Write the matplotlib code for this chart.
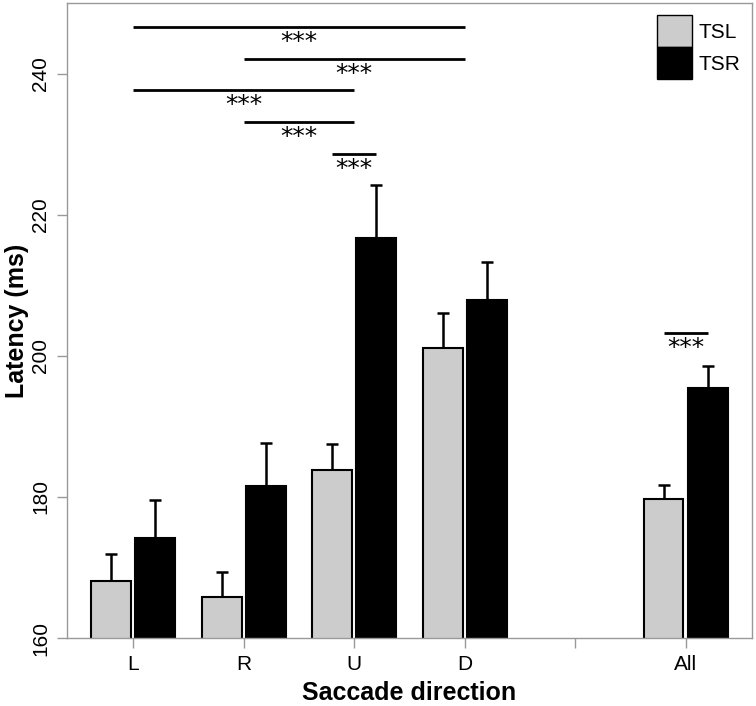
import numpy as np
import matplotlib.pyplot as plt
from matplotlib.patches import Patch

# values (ms)
directions = ['L', 'R', 'U', 'D', '', 'All']
tsl      = [168.1, 165.8, 183.8, 201.1, np.nan, 179.7]
tsl_err  = [3.8, 3.6, 3.7, 4.9, np.nan, 2.0]
tsr      = [174.2, 181.5, 216.7, 207.9, np.nan, 195.4]
tsr_err  = [5.4, 6.2, 7.5, 5.4, np.nan, 3.2]

# significance comparisons: (group, series) -> (group, series), series None = group centre
sig_from  = [('L', None), ('R', None), ('L', None), ('R', None), ('U', 'TSL'), ('All', 'TSL')]
sig_to    = [('D', None), ('D', None), ('U', None), ('U', None), ('U', 'TSR'), ('All', 'TSR')]
sig_level = [246.6, 242.1, 237.7, 233.1, 228.6, 203.2]
sig_text  = ['***'] * 6

plt.rcParams['font.family'] = ['Liberation Sans', 'DejaVu Sans']

grey = '#cccccc'
axis_grey = '#999999'
width = 0.36
offset = 0.2

fig = plt.figure(figsize=(7.56, 7.06), dpi=100)
ax = fig.add_axes([0.0886, 0.0963, 0.9061, 0.8995])

x = np.arange(len(directions))
ax.bar(x - offset, tsl, width, color=grey, edgecolor='black', linewidth=1.5, zorder=2)
ax.bar(x + offset, tsr, width, color='black', edgecolor='black', linewidth=1.5, zorder=2)
ax.errorbar(x - offset, tsl, yerr=[np.zeros(len(x)), tsl_err], fmt='none',
            ecolor='black', elinewidth=1.8, capsize=4, capthick=1.8, zorder=1)
ax.errorbar(x + offset, tsr, yerr=[np.zeros(len(x)), tsr_err], fmt='none',
            ecolor='black', elinewidth=1.8, capsize=4, capthick=1.8, zorder=1)


def xpos(key):
    g, s = key
    xx = directions.index(g)
    if s == 'TSL':
        xx -= offset
    elif s == 'TSR':
        xx += offset
    return xx


for a, b, lev, txt in zip(sig_from, sig_to, sig_level, sig_text):
    x1, x2 = xpos(a), xpos(b)
    ax.plot([x1, x2], [lev, lev], color='black', lw=2, solid_capstyle='butt')
    ax.text((x1 + x2) / 2, lev - 3.1, txt, ha='center', va='baseline',
            fontsize=18, family='DejaVu Sans')

ax.set_xlim(-0.6, 5.6)
ax.set_ylim(160, 250)
ax.set_xticks(x)
ax.set_xticklabels(directions, fontsize=15)
ax.set_yticks([160, 180, 200, 220, 240])
ax.tick_params(axis='both', colors=axis_grey, length=7, width=1, labelcolor='black')
ax.tick_params(axis='y', labelsize=15, labelrotation=90, pad=5)
ax.tick_params(axis='x', pad=5)
for lab in ax.get_yticklabels():
    lab.set_va('center')

for sp in ax.spines.values():
    sp.set_color(axis_grey)
    sp.set_linewidth(1)

ax.set_xlabel('Saccade direction', fontsize=18, fontweight='bold', labelpad=5)
ax.set_ylabel('Latency (ms)', fontsize=18, fontweight='bold', va='center')
ax.yaxis.set_label_coords(-0.073, 0.5)

handles = [Patch(facecolor=grey, edgecolor='black', linewidth=1),
           Patch(facecolor='black', edgecolor='black', linewidth=1)]
ax.legend(handles, ['TSL', 'TSR'], loc='upper left', bbox_to_anchor=(0.861, 0.981),
          frameon=False, fontsize=15, handlelength=1.7, handleheight=2.0,
          labelspacing=0, borderpad=0, borderaxespad=0, handletextpad=0.3)

fig.savefig('out.png', dpi=100)
